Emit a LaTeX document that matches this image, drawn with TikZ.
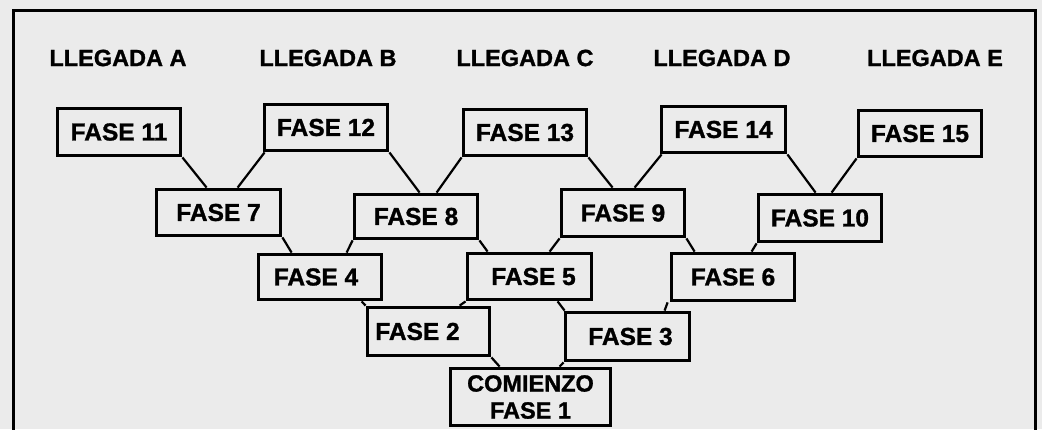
\documentclass[tikz,border=0pt]{standalone}
\usepackage{fontspec}
\setmainfont[BoldFeatures={FakeBold=1.2}]{Liberation Sans}
\begin{document}
\begin{tikzpicture}[x=1pt,y=-1pt,
  fase/.style={draw=black,line width=3.8pt,inner sep=0pt,font=\bfseries\fontsize{24.5}{26}\selectfont,text=black},
  llegada/.style={inner sep=0pt,font=\bfseries\fontsize{23.5}{26}\selectfont,text=black},
  link/.style={draw=black,line width=2.2pt},
  marco/.style={draw=black,line width=3pt}]
\useasboundingbox[fill=black!8] (0,0) rectangle (1042,429);
\draw[marco] (13,440) -- (13,10) -- (1035,10) -- (1035,440);
% labels
\node[llegada] (la) at (118,58) {LLEGADA A};
\node[llegada] (lb) at (328,58) {LLEGADA B};
\node[llegada] (lc) at (525,58) {LLEGADA C};
\node[llegada] (ld) at (722,58) {LLEGADA D};
\node[llegada] (le) at (935,58) {LLEGADA E};
% boxes
\node[fase,minimum width=123,minimum height=47] (F11) at (119,132) {FASE 11};
\node[fase,minimum width=123,minimum height=46] (F12) at (326,127.5) {FASE 12};
\node[fase,minimum width=123,minimum height=46] (F13) at (525,132.5) {FASE 13};
\node[fase,minimum width=124,minimum height=46] (F14) at (723.5,129.5) {FASE 14};
\node[fase,minimum width=123,minimum height=46] (F15) at (920,133.5) {FASE 15};
\node[fase,minimum width=124,minimum height=46] (F7) at (218.5,212.5) {FASE 7};
\node[fase,minimum width=123,minimum height=44] (F8) at (416,216.5) {FASE 8};
\node[fase,minimum width=123,minimum height=47] (F9) at (623,213) {FASE 9};
\node[fase,minimum width=123,minimum height=47] (F10) at (820,218) {FASE 10};
\node[fase,minimum width=123,minimum height=45] (F4) at (320,277) {FASE 4\hspace*{8pt}};
\node[fase,minimum width=124,minimum height=46] (F5) at (529.5,276.5) {\hspace*{8pt}FASE 5};
\node[fase,minimum width=123,minimum height=47] (F6) at (733,277) {FASE 6};
\node[fase,minimum width=122,minimum height=48] (F2) at (428.5,331.5) {FASE 2\hspace*{22pt}};
\node[fase,minimum width=124,minimum height=48] (F3) at (627.5,336.5) {\hspace*{6pt}FASE 3};
\node[fase,minimum width=160,minimum height=57,align=center,font=\bfseries\fontsize{23.5}{27}\selectfont] (F1) at (530.5,397) {COMIENZO\\FASE 1};
% connectors
\draw[link] (F11.south east) -- ([xshift=52pt]F7.north west);
\draw[link] ([xshift=2pt]F12.south west) -- ([xshift=83pt]F7.north west);
\draw[link] (F12.south east) -- ([xshift=67pt]F8.north west);
\draw[link] (F13.south west) -- ([xshift=84pt]F8.north west);
\draw[link] (F13.south east) -- ([xshift=53pt]F9.north west);
\draw[link] ([xshift=2pt]F14.south west) -- ([xshift=75pt]F9.north west);
\draw[link] (F14.south east) -- ([xshift=59pt]F10.north west);
\draw[link] (F15.south west) -- ([xshift=75pt]F10.north west);
\draw[link] (F7.south east) -- ([xshift=35pt]F4.north west);
\draw[link] (F8.south west) -- ([xshift=90pt]F4.north west);
\draw[link] (F8.south east) -- ([xshift=22pt]F5.north west);
\draw[link] (F9.south west) -- ([xshift=84pt]F5.north west);
\draw[link] (F9.south east) -- ([xshift=25pt]F6.north west);
\draw[link] (F10.south west) -- ([xshift=82pt]F6.north west);
\draw[link] ([xshift=105pt]F4.south west) -- (F2.north west);
\draw[link] (F5.south west) -- ([xshift=94pt]F2.north west);
\draw[link] ([xshift=92pt]F5.south west) -- ([xshift=1pt]F3.north west);
\draw[link] ([xshift=-2pt]F6.south west) -- ([xshift=101pt]F3.north west);
\draw[link] (F2.south east) -- ([xshift=51pt]F1.north west);
\draw[link] (F3.south west) -- ([xshift=111pt]F1.north west);
\end{tikzpicture}
\end{document}
